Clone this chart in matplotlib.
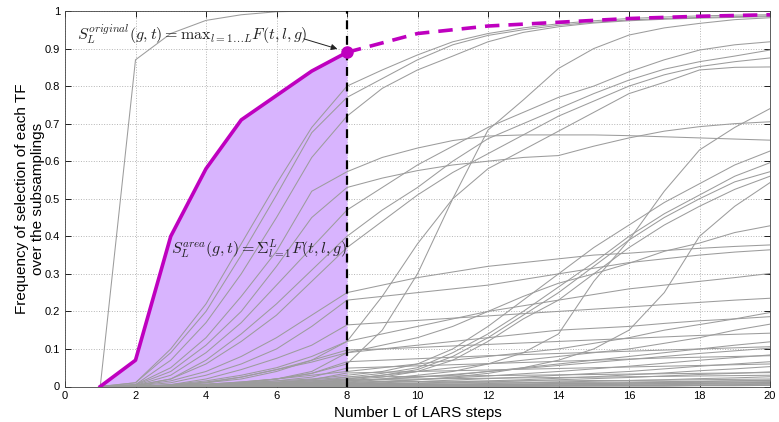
import numpy as np
import matplotlib.pyplot as plt

plt.rcParams['font.family'] = ['Liberation Sans', 'DejaVu Sans']
plt.rcParams['mathtext.fontset'] = 'cm'

steps = np.arange(1, 21)

# highlighted TF (selection frequency per LARS step)
highlight = [0, .07, .40, .58, .71, .775, .84, .89, .915, .94, .95, .96, .965, .97,
             .975, .98, .983, .986, .988, .99]
cut_step = 8

# all the other TFs
others = [
    [0, .87, .94, .975, .99, .998, 1, 1, 1, 1, 1, 1, 1, 1, 1, 1, 1, 1, 1, 1],
    [0, .01, .10, .22, .38, .54, .69, .80, .843, .883, .918, .94, .955, .966, .974, .98, .984, .987, .989, .99],
    [0, .01, .09, .20, .35, .51, .676, .77, .82, .87, .91, .935, .95, .962, .97, .976, .98, .983, .985, .987],
    [0, .005, .07, .17, .30, .45, .61, .72, .794, .843, .88, .918, .943, .958, .968, .974, .978, .981, .983, .985],
    [0, .005, .05, .13, .24, .36, .52, .572, .61, .635, .655, .667, .67, .67, .67, .668, .665, .662, .659, .656],
    [0, .004, .04, .11, .20, .32, .45, .53, .555, .575, .59, .60, .61, .615, .64, .662, .68, .692, .70, .705],
    [0, .003, .03, .09, .17, .27, .37, .47, .53, .59, .64, .69, .73, .77, .80, .838, .87, .896, .91, .918],
    [0, .003, .02, .07, .14, .22, .31, .40, .47, .53, .60, .66, .70, .74, .78, .816, .845, .865, .88, .896],
    [0, .002, .02, .06, .12, .19, .28, .37, .44, .51, .57, .62, .67, .72, .76, .80, .83, .852, .865, .875],
    [0, 0, .003, .01, .02, .04, .07, .12, .24, .38, .50, .58, .63, .68, .73, .78, .81, .843, .85, .851],
    [0, 0, .002, .005, .01, .02, .035, .06, .15, .30, .50, .683, .763, .847, .90, .936, .955, .967, .977, .982],
    [0, 0, 0, .002, .004, .007, .01, .015, .02, .03, .04, .06, .09, .14, .28, .39, .52, .63, .69, .74],
    [0, 0, .002, .005, .01, .015, .02, .03, .04, .06, .10, .16, .23, .30, .37, .43, .49, .54, .59, .627],
    [0, 0, .002, .004, .008, .012, .018, .025, .035, .05, .09, .14, .20, .265, .33, .40, .46, .51, .56, .596],
    [0, 0, .001, .003, .006, .01, .015, .02, .03, .045, .08, .13, .19, .25, .32, .39, .45, .50, .545, .572],
    [0, 0, .001, .003, .005, .008, .012, .018, .025, .04, .07, .12, .18, .23, .30, .37, .43, .48, .525, .56],
    [0, 0, 0, .001, .002, .003, .005, .008, .012, .018, .025, .035, .05, .07, .10, .15, .25, .40, .48, .543],
    [0, 0, .002, .005, .01, .02, .04, .09, .11, .13, .16, .20, .24, .275, .30, .328, .36, .382, .41, .428],
    [0, .002, .015, .04, .08, .13, .19, .25, .27, .29, .305, .32, .33, .34, .35, .355, .362, .368, .373, .377],
    [0, .002, .01, .03, .06, .10, .16, .23, .24, .25, .26, .27, .285, .30, .315, .33, .34, .35, .358, .364],
    [0, 0, .005, .015, .03, .05, .08, .12, .14, .16, .18, .20, .215, .23, .245, .26, .27, .28, .29, .301],
    [0, 0, .005, .02, .045, .075, .11, .164, .17, .176, .182, .188, .194, .20, .206, .212, .218, .224, .23, .235],
    [0, 0, .002, .006, .012, .02, .03, .04, .05, .06, .07, .08, .09, .10, .115, .13, .15, .165, .18, .197],
    [0, 0, .003, .01, .025, .045, .065, .09, .10, .11, .12, .13, .14, .15, .155, .16, .168, .175, .18, .186],
    [0, 0, .001, .003, .006, .01, .015, .02, .03, .04, .05, .06, .07, .08, .09, .10, .115, .13, .15, .166],
    [0, 0, .004, .012, .025, .045, .07, .097, .10, .104, .108, .112, .116, .12, .124, .128, .132, .136, .139, .142],
    [0, 0, .001, .002, .004, .007, .01, .015, .02, .025, .03, .04, .05, .06, .07, .08, .09, .10, .11, .119],
    [0, 0, .001, .002, .003, .005, .008, .012, .018, .025, .032, .04, .048, .056, .064, .072, .08, .088, .095, .102],
    [0, 0, 0, .001, .002, .004, .006, .01, .014, .018, .023, .028, .034, .04, .047, .054, .062, .07, .077, .084],
    [0, 0, .002, .006, .012, .02, .035, .066, .07, .074, .078, .082, .085, .088, .091, .094, .097, .10, .103, .106],
    [0, 0, 0, .001, .002, .003, .005, .007, .01, .013, .017, .021, .025, .03, .035, .04, .047, .054, .06, .066],
    [0, 0, .001, .004, .008, .015, .025, .049, .052, .055, .058, .061, .064, .067, .07, .073, .076, .078, .08, .082],
    [0, 0, 0, 0, .001, .002, .003, .005, .007, .009, .012, .015, .018, .022, .026, .031, .036, .042, .047, .053],
    [0, 0, .001, .003, .006, .01, .018, .036, .038, .04, .042, .044, .046, .048, .05, .052, .054, .056, .058, .06],
    [0, 0, 0, 0, .001, .002, .003, .004, .006, .008, .01, .012, .015, .018, .021, .024, .028, .032, .035, .039],
    [0, 0, .001, .002, .004, .007, .012, .025, .026, .027, .028, .029, .03, .031, .032, .033, .034, .035, .036, .037],
    [0, 0, 0, 0, 0, .001, .002, .003, .004, .005, .006, .008, .01, .012, .014, .016, .018, .021, .023, .026],
    [0, 0, 0, .001, .002, .004, .008, .018, .019, .02, .021, .022, .023, .024, .025, .026, .027, .028, .029, .03],
    [0, 0, 0, 0, 0, 0, .001, .002, .003, .004, .004, .005, .006, .007, .008, .01, .011, .013, .015, .017],
    [0, 0, 0, .001, .002, .003, .006, .012, .013, .013, .014, .014, .015, .015, .016, .016, .017, .018, .019, .02],
    [0, 0, 0, 0, .001, .002, .004, .008, .008, .009, .009, .01, .01, .011, .011, .012, .013, .014, .015, .016],
    [0, 0, 0, 0, 0, .001, .002, .005, .005, .006, .006, .007, .007, .008, .008, .009, .01, .011, .012, .013],
    [0, 0, 0, 0, 0, 0, .001, .003, .003, .004, .004, .005, .005, .006, .006, .007, .008, .009, .01, .011],
    [0, 0, 0, 0, 0, 0, 0, .001, .002, .002, .003, .003, .004, .004, .005, .006, .007, .008, .009, .01],
    [0, 0, 0, 0, 0, 0, 0, 0, .001, .001, .002, .002, .003, .003, .004, .004, .005, .006, .007, .008],
    [0, 0, 0, 0, 0, 0, 0, 0, 0, .001, .001, .001, .002, .002, .002, .003, .003, .004, .005, .006],
    [0, 0, 0, 0, 0, 0, 0, 0, 0, 0, 0, .001, .001, .001, .002, .002, .002, .003, .003, .004],
    [0, 0, 0, 0, 0, 0, 0, 0, 0, 0, 0, 0, 0, .001, .001, .001, .001, .002, .002, .003],
]

xtick_vals = np.arange(0, 21, 2)
ytick_vals = np.arange(0, 1.01, 0.1)
ytick_labels = ['0', '0.1', '0.2', '0.3', '0.4', '0.5', '0.6', '0.7', '0.8', '0.9', '1']

purple = '#bf00bf'
fill_col = '#d8b4fe'

fig = plt.figure(figsize=(7.79, 4.22), dpi=100)
ax = fig.add_axes([65/779, 35.5/422, 705/779, 375.5/422])

n_cut = cut_step  # steps 1..8
ax.fill_between(steps[:n_cut], highlight[:n_cut], 0, color=fill_col, lw=0, zorder=1)

for row in others:
    ax.plot(steps, row, color='#9c9c9c', lw=0.75, zorder=2)

ax.plot([cut_step, cut_step], [0, 1], color='k', ls=(0, (4, 3)), lw=1.6, zorder=3)
ax.plot(steps[:n_cut], highlight[:n_cut], color=purple, lw=2.6, zorder=4)
ax.plot(steps[n_cut - 1:], highlight[n_cut - 1:], color=purple, lw=2.6,
        ls=(0, (4, 2.5)), zorder=4)
ax.plot(steps[n_cut - 1], highlight[n_cut - 1], 'o', color=purple, ms=8, zorder=5)

ax.text(0.35, 0.935, r'$S_L^{original}(g,t) = \mathrm{max}_{l=1 \ldots L} F(t,l,g)$',
        fontsize=11.5, va='center', ha='left', color='#222222', zorder=6)
ax.annotate('', xy=(7.8, 0.897), xytext=(6.7, 0.928),
            arrowprops=dict(arrowstyle='-|>', color='#222222', lw=0.7,
                            mutation_scale=9), zorder=6)
ax.text(3.0, 0.368, r'$S_L^{area}(g,t) = \Sigma_{l=1}^{L} F(t,l,g)$',
        fontsize=11.5, va='center', ha='left', color='#222222', zorder=6)

ax.set_xlim(0, 20)
ax.set_ylim(0, 1)
ax.set_xticks(xtick_vals)
ax.set_yticks(ytick_vals)
ax.set_yticklabels(ytick_labels)
ax.tick_params(direction='in', top=True, right=True, labelsize=8, length=4, width=0.6)
ax.grid(True, ls=':', color='#b5b5b5', lw=0.7)
ax.set_axisbelow(True)
for s in ax.spines.values():
    s.set_linewidth(0.6)
    s.set_color('#444444')

ax.set_xlabel('Number L of LARS steps', fontsize=11, labelpad=3)
ax.set_ylabel('Frequency of selection of each TF\nover the subsamplings', fontsize=11,
              linespacing=1.15, labelpad=0)

fig.savefig('out.png', dpi=100)
